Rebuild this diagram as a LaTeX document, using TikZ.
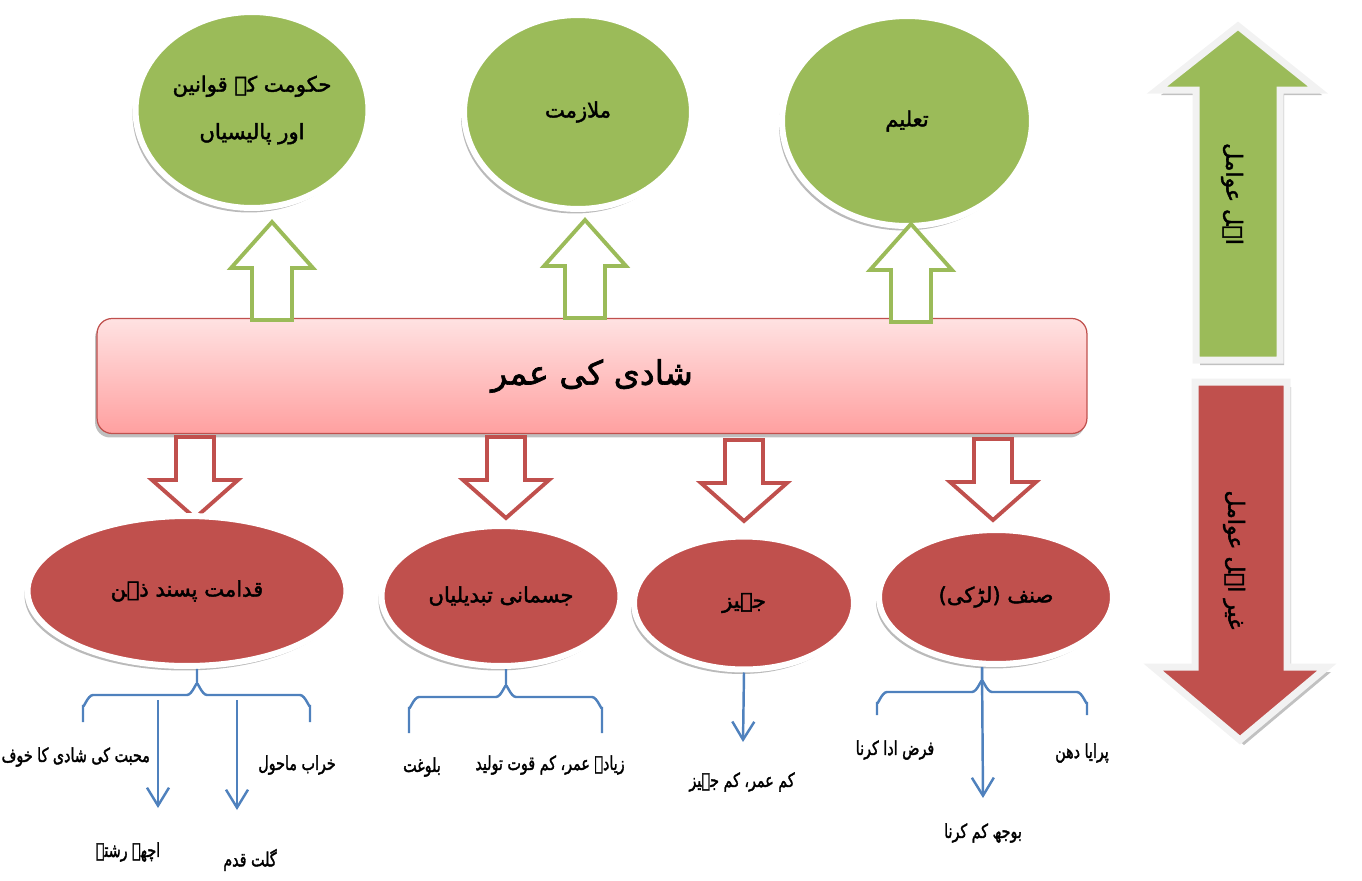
\documentclass[tikz,border=0pt]{standalone}
\usepackage{fontspec}
\usepackage{graphicx}
\usepackage{xcolor}
\definecolor{LeafGreen}{RGB}{155,187,89}
\definecolor{BrickRed}{RGB}{192,80,77}
\definecolor{LineBlue}{RGB}{79,129,189}
\definecolor{PinkTop}{RGB}{255,226,226}
\definecolor{PinkBottom}{RGB}{255,160,160}
\definecolor{RimGray}{RGB}{242,242,242}
\TeXXeTstate=1
\newfontfamily\urdufont[Script=Arabic, FakeBold=2]{DejaVu Sans}
\newcommand{\urtext}[1]{{\urdufont\beginR #1\endR}}
\newcommand{\urlabel}[1]{\scalebox{0.74}[1]{\urdufont\beginR #1\endR}}
\usetikzlibrary{shapes.geometric, arrows.meta, shadows, calc}
\tikzset{
  % Oval nodes with white rim
  oval/.style={
    ellipse, draw=white, line width=0.12cm,
    drop shadow={shadow xshift=-0.06cm, shadow yshift=-0.09cm,
      opacity=0.45, fill=black!60},
    align=center, font=\fontsize{12}{27}\selectfont, inner sep=0pt
  },
  oval green/.style={oval, fill=LeafGreen},
  oval red/.style={oval, fill=BrickRed},
  % Central bar
  agebar/.style={
    rectangle, rounded corners=0.3cm, draw=BrickRed, line width=0.7pt,
    top color=PinkTop, bottom color=PinkBottom,
    drop shadow={shadow xshift=-0.04cm, shadow yshift=-0.08cm,
      opacity=0.5, fill=black!50},
    minimum width=19.8cm, minimum height=2.3cm,
    font=\fontsize{19}{24}\selectfont
  },
  % Hollow block arrows
  hollow green/.style={draw=LeafGreen, fill=white, line width=2.2pt},
  hollow red/.style={draw=BrickRed, fill=white, line width=2.2pt},
  blockup/.pic={
    \draw[hollow green] (-20,0) -- (-20,-52) -- (-41,-52) -- (0,-98)
      -- (41,-52) -- (20,-52) -- (20,0) -- cycle;
  },
  blockdown/.pic={
    \draw[hollow red] (-19,0) -- (-19,43) -- (-43,43) -- (0,81)
      -- (43,43) -- (19,43) -- (19,0) -- cycle;
  },
  % Big side arrows
  sidearr/.style={draw=RimGray, line width=0.14cm,
    drop shadow={shadow xshift=0.08cm, shadow yshift=-0.1cm,
      opacity=0.35, fill=black!70}},
  sidetext/.style={rotate=-90, font=\fontsize{12.5}{15}\selectfont},
  % Thin blue lines
  brc/.style={draw=LineBlue, line width=1.4pt},
  barr/.style={brc, -{Straight Barb[length=0.36cm, width=0.44cm]}},
  % Text below ovals
  tlabel/.style={font=\fontsize{11}{14}\selectfont, inner sep=1pt},
}

\begin{document}
\begin{tikzpicture}[x=0.02cm, y=-0.02cm]
  \useasboundingbox (0,0) rectangle (1362,880);

  %% Top ovals
  \node[oval green, minimum width=4.66cm, minimum height=3.92cm]
    (law) at (252,110) {\urtext{حکومت کے قوانین}\\\urtext{اور پالیسیاں}};
  \node[oval green, minimum width=4.56cm, minimum height=3.88cm]
    (job) at (578,112) {\urtext{ملازمت}};
  \node[oval green, minimum width=5.0cm, minimum height=4.2cm]
    (edu) at (907,121) {\urtext{تعلیم}};

  %% Central bar
  \node[agebar] (age) at (592,376) {\urtext{شادی کی عمر}};

  %% Block arrows
  \pic at (272,320) {blockup};
  \pic at (585,318) {blockup};
  \pic at (911,322) {blockup};
  \pic at (195,437) {blockdown};
  \pic at (506,437) {blockdown};
  \pic at (744,440) {blockdown};
  \pic at (993,439) {blockdown};

  %% Bottom ovals
  \node[oval red, minimum width=6.38cm, minimum height=3.0cm]
    (mind) at (187,591) {\urtext{قدامت پسند ذہن}};
  \node[oval red, minimum width=4.78cm, minimum height=2.8cm]
    (body) at (501,596) {\urtext{جسمانی تبدیلیاں}};
  \node[oval red, minimum width=4.4cm, minimum height=2.66cm]
    (dowry) at (744,603) {\urtext{جہیز}};
  \node[oval red, minimum width=4.68cm, minimum height=2.68cm]
    (girl) at (996,597) {\urtext{صنف (لڑکی)}};

  %% Side arrows
  \draw[sidearr, fill=LeafGreen] (1196,360) -- (1196,90) -- (1157,90)
    -- (1238,26) -- (1318,90) -- (1280,90) -- (1280,360) -- cycle;
  \draw[sidearr, fill=BrickRed] (1195,382) -- (1287,382) -- (1287,667)
    -- (1327,667) -- (1240,740) -- (1153,667) -- (1195,667) -- cycle;
  \node[sidetext] (pos) at (1232,194) {\urtext{اہل عوامل}};
  \node[sidetext] (neg) at (1234,560) {\urtext{غیر اہل عوامل}};

  %% Labels
  \node[tlabel, anchor=east] (fear) at (152,757) {\urlabel{محبت کی شادی کا خوف}};
  \node[tlabel] (env) at (297,765) {\urlabel{خراب ماحول}};
  \node[tlabel] (match) at (128,852) {\urlabel{اچھے رشتہ}};
  \node[tlabel] (step) at (250,860) {\urlabel{گلت قدم}};
  \node[tlabel] (puberty) at (422,767) {\urlabel{بلوغت}};
  \node[tlabel] (fert) at (550,765) {\urlabel{زیادہ عمر، کم قوت تولید}};
  \node[tlabel] (less) at (742,782) {\urlabel{کم عمر، کم جہیز}};
  \node[tlabel] (duty) at (895,750) {\urlabel{فرض ادا کرنا}};
  \node[tlabel] (wealth) at (1082,753) {\urlabel{پرایا دھن}};
  \node[tlabel] (burden) at (983,833) {\urlabel{بوجھ کم کرنا}};

  %% Braces
  \coordinate (k1) at (197,695);
  \draw[brc] (mind.south -| k1) -- ($(k1)+(0,-10)$)
    to[out=90, in=0] ($(k1)+(-10,0)$) -- (93,695)
    to[out=180, in=-90] (83,705) -- (83,722);
  \draw[brc] ($(k1)+(0,-10)$) to[out=90, in=180] ($(k1)+(10,0)$)
    -- (300,695) to[out=0, in=-90] (310,705) -- (310,722);

  \coordinate (k2) at (506,697);
  \draw[brc] (body.south -| k2) -- ($(k2)+(0,-10)$)
    to[out=90, in=0] ($(k2)+(-10,0)$) -- (419,697)
    to[out=180, in=-90] (409,707) -- (409,733);
  \draw[brc] ($(k2)+(0,-10)$) to[out=90, in=180] ($(k2)+(10,0)$)
    -- (592,697) to[out=0, in=-90] (602,707) -- (602,733);

  \coordinate (k4) at (982,692);
  \draw[brc] (girl.south -| k4) -- ($(k4)+(0,-10)$)
    to[out=90, in=0] ($(k4)+(-10,0)$) -- (887,692)
    to[out=180, in=-90] (877,702) -- (877,715);
  \draw[brc] ($(k4)+(0,-10)$) to[out=90, in=180] ($(k4)+(10,0)$)
    -- (1077,692) to[out=0, in=-90] (1087,702) -- (1087,715);

  %% Thin arrows
  \coordinate (a1) at (158,700);
  \coordinate (a2) at (237,700);
  \draw[barr] (a1) -- (a1 |- 0,808);
  \draw[barr] (a2) -- (a2 |- 0,810);
  \draw[barr] (dowry.south) -- (743,742);
  \draw[barr] (girl.south -| k4) -- (983,798);

\end{tikzpicture}
\end{document}
